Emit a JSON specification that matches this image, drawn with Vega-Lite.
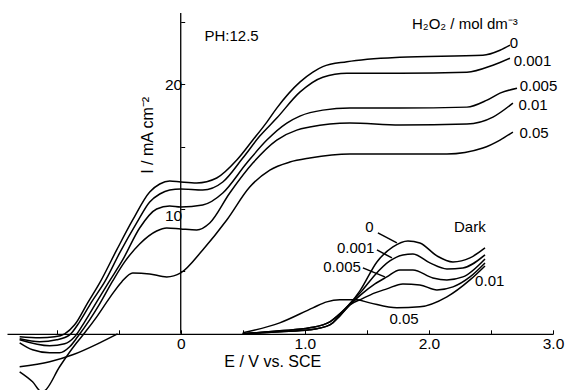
{
  "$schema": "https://vega.github.io/schema/vega-lite/v6.json",
  "width": 546,
  "height": 377,
  "autosize": "none",
  "padding": {"left": 7, "top": 13, "right": 12, "bottom": 0},
  "background": "white",
  "config": {"view": {"stroke": null}, "font": "Liberation Sans"},
  "datasets": {
    "curves": [
      {"s":"p0","x":-1.298,"y":-0.24},{"s":"p0","x":-1.137,"y":-0.32},{"s":"p0","x":-1.016,"y":-0.24},{"s":"p0","x":-0.935,"y":0},{"s":"p0","x":-0.855,"y":0.72},{"s":"p0","x":-0.75,"y":2.48},{"s":"p0","x":-0.653,"y":4.08},{"s":"p0","x":-0.516,"y":6.72},{"s":"p0","x":-0.387,"y":9.12},{"s":"p0","x":-0.25,"y":11.36},{"s":"p0","x":-0.169,"y":12.0},{"s":"p0","x":-0.089,"y":12.24},{"s":"p0","x":0,"y":12.16},{"s":"p0","x":0.129,"y":12.08},{"s":"p0","x":0.29,"y":12.48},{"s":"p0","x":0.452,"y":13.92},{"s":"p0","x":0.581,"y":15.52},{"s":"p0","x":0.694,"y":16.96},{"s":"p0","x":0.774,"y":18.08},{"s":"p0","x":0.96,"y":20.16},{"s":"p0","x":1.065,"y":20.96},{"s":"p0","x":1.145,"y":21.4},{"s":"p0","x":1.339,"y":21.8},{"s":"p0","x":1.766,"y":22.16},{"s":"p0","x":2.435,"y":22.32},{"s":"p0","x":2.573,"y":22.72},{"s":"p0","x":2.653,"y":23.12},
      {"s":"p1","x":-1.298,"y":-0.4},{"s":"p1","x":-1.137,"y":-0.64},{"s":"p1","x":-1.0,"y":-0.48},{"s":"p1","x":-0.895,"y":-0.08},{"s":"p1","x":-0.815,"y":0.96},{"s":"p1","x":-0.718,"y":2.56},{"s":"p1","x":-0.613,"y":4.16},{"s":"p1","x":-0.492,"y":6.48},{"s":"p1","x":-0.355,"y":8.88},{"s":"p1","x":-0.25,"y":10.56},{"s":"p1","x":-0.169,"y":11.2},{"s":"p1","x":-0.089,"y":11.52},{"s":"p1","x":0,"y":11.6},{"s":"p1","x":0.177,"y":11.52},{"s":"p1","x":0.339,"y":12.16},{"s":"p1","x":0.5,"y":14.08},{"s":"p1","x":0.637,"y":15.84},{"s":"p1","x":0.774,"y":17.28},{"s":"p1","x":0.96,"y":19.36},{"s":"p1","x":1.145,"y":20.56},{"s":"p1","x":1.339,"y":20.88},{"s":"p1","x":1.766,"y":20.88},{"s":"p1","x":2.306,"y":20.96},{"s":"p1","x":2.516,"y":21.52},{"s":"p1","x":2.653,"y":22.08},
      {"s":"p2","x":-1.298,"y":-0.48},{"s":"p2","x":-1.056,"y":-0.96},{"s":"p2","x":-0.935,"y":-0.8},{"s":"p2","x":-0.855,"y":-0.24},{"s":"p2","x":-0.774,"y":0.96},{"s":"p2","x":-0.677,"y":2.56},{"s":"p2","x":-0.573,"y":4.24},{"s":"p2","x":-0.468,"y":5.92},{"s":"p2","x":-0.331,"y":8.48},{"s":"p2","x":-0.194,"y":10.0},{"s":"p2","x":-0.089,"y":10.24},{"s":"p2","x":0,"y":10.16},{"s":"p2","x":0.177,"y":10.32},{"s":"p2","x":0.339,"y":11.28},{"s":"p2","x":0.532,"y":13.68},{"s":"p2","x":0.694,"y":15.52},{"s":"p2","x":0.855,"y":16.88},{"s":"p2","x":0.96,"y":17.44},{"s":"p2","x":1.145,"y":17.92},{"s":"p2","x":1.363,"y":18.08},{"s":"p2","x":1.766,"y":18.08},{"s":"p2","x":2.306,"y":18.16},{"s":"p2","x":2.468,"y":18.72},{"s":"p2","x":2.573,"y":19.28},{"s":"p2","x":2.71,"y":19.68},
      {"s":"p3","x":-1.298,"y":-0.72},{"s":"p3","x":-1.194,"y":-1.28},{"s":"p3","x":-1.056,"y":-1.52},{"s":"p3","x":-0.976,"y":-1.52},{"s":"p3","x":-0.895,"y":-1.04},{"s":"p3","x":-0.831,"y":-0.24},{"s":"p3","x":-0.734,"y":1.12},{"s":"p3","x":-0.653,"y":2.4},{"s":"p3","x":-0.548,"y":4.24},{"s":"p3","x":-0.452,"y":5.76},{"s":"p3","x":-0.331,"y":7.2},{"s":"p3","x":-0.194,"y":8.24},{"s":"p3","x":-0.113,"y":8.48},{"s":"p3","x":0,"y":8.4},{"s":"p3","x":0.129,"y":8.32},{"s":"p3","x":0.234,"y":8.88},{"s":"p3","x":0.395,"y":11.28},{"s":"p3","x":0.581,"y":13.68},{"s":"p3","x":0.774,"y":15.52},{"s":"p3","x":0.935,"y":16.32},{"s":"p3","x":1.04,"y":16.56},{"s":"p3","x":1.363,"y":16.88},{"s":"p3","x":1.766,"y":16.72},{"s":"p3","x":2.306,"y":16.8},{"s":"p3","x":2.516,"y":17.36},{"s":"p3","x":2.677,"y":18.48},
      {"s":"p4","x":-1.298,"y":-3.04},{"s":"p4","x":-1.194,"y":-3.84},{"s":"p4","x":-1.121,"y":-4.64},{"s":"p4","x":-1.097,"y":-4.56},{"s":"p4","x":-0.976,"y":-2.64},{"s":"p4","x":-0.839,"y":-0.72},{"s":"p4","x":-0.774,"y":0.08},{"s":"p4","x":-0.677,"y":1.36},{"s":"p4","x":-0.573,"y":2.88},{"s":"p4","x":-0.476,"y":4.16},{"s":"p4","x":-0.387,"y":4.88},{"s":"p4","x":-0.25,"y":4.8},{"s":"p4","x":-0.113,"y":4.56},{"s":"p4","x":0,"y":4.88},{"s":"p4","x":0.177,"y":6.72},{"s":"p4","x":0.371,"y":9.12},{"s":"p4","x":0.556,"y":11.76},{"s":"p4","x":0.718,"y":13.12},{"s":"p4","x":0.879,"y":13.76},{"s":"p4","x":1.04,"y":14.08},{"s":"p4","x":1.363,"y":14.4},{"s":"p4","x":2.145,"y":14.4},{"s":"p4","x":2.435,"y":14.88},{"s":"p4","x":2.573,"y":15.52},{"s":"p4","x":2.677,"y":16.16},
      {"s":"c","x":-1.298,"y":-2.64},{"s":"c","x":-1.056,"y":-2.24},{"s":"c","x":-0.871,"y":-1.68},{"s":"c","x":-0.653,"y":-0.72},{"s":"c","x":-0.508,"y":0.0},
      {"s":"d0","x":0.5,"y":0},{"s":"d0","x":0.798,"y":0.24},{"s":"d0","x":1.04,"y":0.48},{"s":"d0","x":1.202,"y":0.96},{"s":"d0","x":1.282,"y":1.6},{"s":"d0","x":1.363,"y":2.4},{"s":"d0","x":1.444,"y":3.44},{"s":"d0","x":1.581,"y":5.76},{"s":"d0","x":1.71,"y":6.96},{"s":"d0","x":1.831,"y":7.44},{"s":"d0","x":1.927,"y":7.28},{"s":"d0","x":2.065,"y":6.24},{"s":"d0","x":2.194,"y":5.76},{"s":"d0","x":2.331,"y":6.08},{"s":"d0","x":2.452,"y":6.88},
      {"s":"d1","x":0.5,"y":0},{"s":"d1","x":0.798,"y":0.24},{"s":"d1","x":1.04,"y":0.48},{"s":"d1","x":1.202,"y":0.96},{"s":"d1","x":1.282,"y":1.6},{"s":"d1","x":1.363,"y":2.4},{"s":"d1","x":1.46,"y":3.44},{"s":"d1","x":1.565,"y":4.72},{"s":"d1","x":1.685,"y":5.84},{"s":"d1","x":1.79,"y":6.32},{"s":"d1","x":1.871,"y":6.4},{"s":"d1","x":2.008,"y":5.68},{"s":"d1","x":2.145,"y":5.2},{"s":"d1","x":2.274,"y":5.28},{"s":"d1","x":2.452,"y":6.32},
      {"s":"d2","x":0.5,"y":0},{"s":"d2","x":0.798,"y":0.16},{"s":"d2","x":1.04,"y":0.32},{"s":"d2","x":1.202,"y":0.72},{"s":"d2","x":1.282,"y":1.44},{"s":"d2","x":1.363,"y":2.32},{"s":"d2","x":1.46,"y":3.2},{"s":"d2","x":1.565,"y":4.0},{"s":"d2","x":1.661,"y":4.56},{"s":"d2","x":1.766,"y":5.12},{"s":"d2","x":1.871,"y":5.12},{"s":"d2","x":2.032,"y":4.48},{"s":"d2","x":2.145,"y":4.32},{"s":"d2","x":2.274,"y":4.56},{"s":"d2","x":2.452,"y":6.0},
      {"s":"d3","x":0.5,"y":0},{"s":"d3","x":0.798,"y":0.16},{"s":"d3","x":1.04,"y":0.32},{"s":"d3","x":1.202,"y":0.72},{"s":"d3","x":1.282,"y":1.44},{"s":"d3","x":1.363,"y":2.32},{"s":"d3","x":1.46,"y":2.8},{"s":"d3","x":1.565,"y":3.28},{"s":"d3","x":1.661,"y":3.6},{"s":"d3","x":1.79,"y":4.0},{"s":"d3","x":1.927,"y":3.92},{"s":"d3","x":2.065,"y":3.52},{"s":"d3","x":2.194,"y":3.76},{"s":"d3","x":2.331,"y":4.56},{"s":"d3","x":2.452,"y":5.68},
      {"s":"d4","x":0.5,"y":0.08},{"s":"d4","x":0.798,"y":0.88},{"s":"d4","x":1.065,"y":2.08},{"s":"d4","x":1.177,"y":2.56},{"s":"d4","x":1.282,"y":2.72},{"s":"d4","x":1.419,"y":2.72},{"s":"d4","x":1.524,"y":2.48},{"s":"d4","x":1.742,"y":2.08},{"s":"d4","x":1.927,"y":2.16},{"s":"d4","x":2.145,"y":2.96},{"s":"d4","x":2.331,"y":4.32},{"s":"d4","x":2.452,"y":5.44},
      {"s":"L1","x":1.589,"y":8.08},{"s":"L1","x":1.742,"y":7.28},
      {"s":"L2","x":1.581,"y":6.72},{"s":"L2","x":1.702,"y":6.08},
      {"s":"L3","x":1.468,"y":5.28},{"s":"L3","x":1.645,"y":4.56}
    ],
    "labels": [
      {"t":"PH:12.5","x":0.41,"y":23.84},
      {"t":"H₂O₂ / mol dm⁻³","x":2.29,"y":24.85},
      {"t":"0","x":2.685,"y":23.3},
      {"t":"0.001","x":2.835,"y":21.85},
      {"t":"0.005","x":2.883,"y":19.85},
      {"t":"0.01","x":2.839,"y":18.35},
      {"t":"0.05","x":2.847,"y":16.08},
      {"t":"Dark","x":2.33,"y":8.56},
      {"t":"0","x":1.52,"y":8.56},
      {"t":"0.001","x":1.41,"y":6.88},
      {"t":"0.005","x":1.30,"y":5.36},
      {"t":"0.01","x":2.49,"y":4.24},
      {"t":"0.05","x":1.80,"y":1.2}
    ],
    "xtitle": [{"t":"E / V   vs.   SCE","x":0.742,"y":-2.24}],
    "yaxisline": [{"x":0,"y":0,"y2":25.7}],
    "ytitle": [{"t":"I / mA  cm⁻²","x":-0.266,"y":15.9}]
  },
  "layer": [
    {
      "data": {"name": "curves"},
      "mark": {"type": "line", "color": "black", "strokeWidth": 1.5, "clip": true, "interpolate": "monotone"},
      "encoding": {
        "x": {"field": "x", "type": "quantitative",
              "scale": {"domain": [-1.4, 3.0], "nice": false, "zero": false},
              "axis": {"orient": "bottom", "offset": -56.2, "title": null, "grid": false,
                       "values": [-1, -0.5, 0, 0.5, 1, 1.5, 2, 2.5, 3],
                       "labelExpr": "datum.value == 0 ? '0' : (datum.value == 1 || datum.value == 2 || datum.value == 3) ? format(datum.value, '.1f') : ''",
                       "tickSize": -4, "labelPadding": 7, "labelFontSize": 15.5, "labelFont": "Liberation Sans", "labelColor": "black",
                       "tickColor": "black", "domainColor": "black", "domainWidth": 1.3, "labelFlush": false}},
        "y": {"field": "y", "type": "quantitative",
              "scale": {"domain": [-4.5, 25.7], "nice": false, "zero": false},
              "axis": {"orient": "left", "offset": -173.7, "title": null, "grid": false, "domain": false,
                       "values": [5, 10, 15, 20, 25],
                       "labelExpr": "(datum.value == 10 || datum.value == 20) ? datum.label : ''",
                       "labelBaseline": {"condition": {"test": "datum.value == 10", "value": "top"}, "value": "middle"},
                       "tickSize": -4, "labelPadding": 3, "labelFontSize": 15.5, "labelFont": "Liberation Sans", "labelColor": "black",
                       "tickColor": "black", "labelFlush": false}},
        "detail": {"field": "s"}
      }
    },
    {
      "data": {"name": "yaxisline"},
      "mark": {"type": "rule", "color": "black", "strokeWidth": 1.3},
      "encoding": {
        "x": {"field": "x", "type": "quantitative"},
        "y": {"field": "y", "type": "quantitative"},
        "y2": {"field": "y2"}
      }
    },
    {
      "data": {"name": "labels"},
      "mark": {"type": "text", "font": "Liberation Sans", "fontSize": 15, "align": "center", "baseline": "middle", "color": "black"},
      "encoding": {
        "x": {"field": "x", "type": "quantitative"},
        "y": {"field": "y", "type": "quantitative"},
        "text": {"field": "t"}
      }
    },
    {
      "data": {"name": "xtitle"},
      "mark": {"type": "text", "font": "Liberation Sans", "fontSize": 16, "align": "center", "baseline": "middle", "color": "black"},
      "encoding": {
        "x": {"field": "x", "type": "quantitative"},
        "y": {"field": "y", "type": "quantitative"},
        "text": {"field": "t"}
      }
    },
    {
      "data": {"name": "ytitle"},
      "mark": {"type": "text", "font": "Liberation Sans", "fontSize": 16, "align": "center", "baseline": "middle", "angle": 270, "color": "black"},
      "encoding": {
        "x": {"field": "x", "type": "quantitative"},
        "y": {"field": "y", "type": "quantitative"},
        "text": {"field": "t"}
      }
    }
  ]
}
